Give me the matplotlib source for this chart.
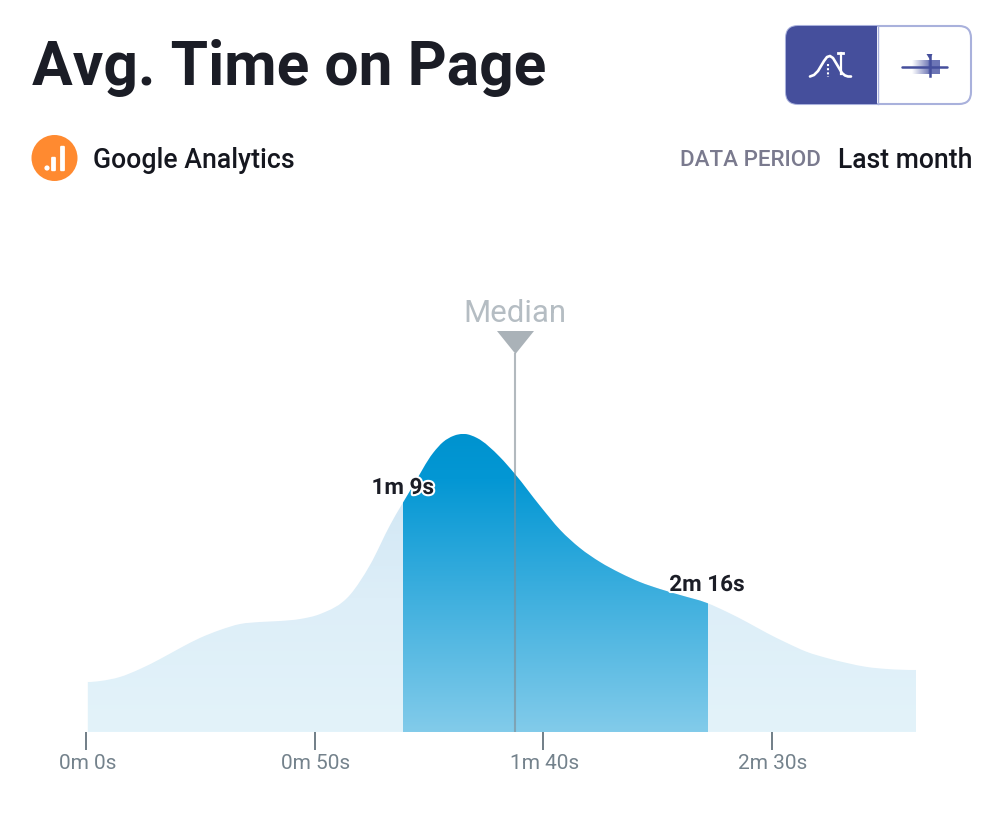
import numpy as np
import matplotlib
matplotlib.use('Agg')
import matplotlib.pyplot as plt
import matplotlib.patheffects as pe
from matplotlib.colors import LinearSegmentedColormap
from matplotlib.patches import Circle, FancyBboxPatch, PathPatch, Polygon, Rectangle
from matplotlib.path import Path
from matplotlib.transforms import ScaledTranslation

plt.rcParams['font.family'] = ['Roboto', 'DejaVu Sans']

seconds = [0.4, 3.1, 7.4, 11.8, 16.2, 20.6, 24.9, 29.3, 33.7, 38, 42.4, 46.8, 51.2, 57.7, 62.1,
           66.5, 71.5, 75.9, 78.1, 80.3, 82.9, 85.5, 90.5, 93.8, 99.3, 103.7,
           108, 112.4, 116.8, 121.1, 125.5, 129.9, 135.8, 140.2, 144.5, 148.9, 153.3, 157.7, 162, 166.4,
           170.8, 175.2, 181.5]
density = [50, 51, 55, 63, 73, 84, 94, 102, 108, 110, 111, 113, 118, 137, 167,
           207, 246, 279, 290, 296, 298, 294, 275, 258, 226, 202,
           184, 170, 159, 150, 143, 137, 129, 120, 110, 99, 89, 80, 74, 69,
           65, 63, 62]
tick_seconds = [0, 50, 100, 150]
tick_labels = ['0m 0s', '0m 50s', '1m 40s', '2m 30s']
low_seconds = 69.3
high_seconds = 135.8
median_seconds = 93.8
low_label = '1m 9s'
high_label = '2m 16s'
x_max = 181.5
y_max = 432

W, H = 1000, 830


def smooth_area(xs, ys):
    # bezier through the read points with slopes from the neighbours, closed along the baseline
    slopes = np.gradient(ys, xs)
    slopes[0] = 0
    slopes[-1] = 0
    verts = [(xs[0], 0), (xs[0], ys[0])]
    codes = [Path.MOVETO, Path.LINETO]
    for i in range(len(xs) - 1):
        dx = xs[i + 1] - xs[i]
        verts += [(xs[i] + dx / 3, ys[i] + slopes[i] * dx / 3),
                  (xs[i + 1] - dx / 3, ys[i + 1] - slopes[i + 1] * dx / 3),
                  (xs[i + 1], ys[i + 1])]
        codes += [Path.CURVE4] * 3
    verts += [(xs[-1], 0), (xs[0], 0)]
    codes += [Path.LINETO, Path.CLOSEPOLY]
    return Path(verts, codes)


fig = plt.figure(figsize=(W / 100, H / 100), dpi=100, facecolor='white')

# chart area, 86..916 px wide, baseline at 732 px
ax = fig.add_axes([86 / W, (H - 732) / H, (916 - 86) / W, y_max / H])
ax.set_xlim(0, x_max)
ax.set_ylim(0, y_max)
ax.patch.set_visible(False)
for s in ax.spines.values():
    s.set_visible(False)
ax.yaxis.set_visible(False)

area = PathPatch(smooth_area(seconds, density), transform=ax.transData, fc='none', ec='none')
ax.add_patch(area)

ramp = np.linspace(0, 1, 256).reshape(-1, 1)
light = LinearSegmentedColormap.from_list('light', [(0, '#e3f3fa'), (0.45, '#ddeef8'), (0.77, '#d3e8f5'), (1, '#d3e8f5')])
dark = LinearSegmentedColormap.from_list('dark', [(0, '#82cbea'), (0.85, '#0397d4'), (1, '#0093cf')])
im = ax.imshow(ramp, origin='lower', extent=[0, x_max, 0, 298], aspect='auto', cmap=light, zorder=1)
im.set_clip_path(area)
im = ax.imshow(ramp, origin='lower', extent=[low_seconds, high_seconds, 0, 298], aspect='auto', cmap=dark, zorder=2)
im.set_clip_path(area)
ax.set_xlim(0, x_max)
ax.set_ylim(0, y_max)

ax.plot([median_seconds, median_seconds], [0, 379], color='#7f8b93', alpha=0.6, lw=1.5, zorder=3,
        solid_capstyle='butt')

ax.set_xticks(tick_seconds)
ax.set_xticklabels(tick_labels, fontsize=15, color='#74828c')
ax.tick_params(axis='x', length=13, width=1.3, color='#66747e', pad=2.5)
for i, lab in enumerate(ax.get_xticklabels()):
    # labels sit slightly right of their ticks in the original
    shift = 2 if i == 0 else 1
    lab.set_transform(lab.get_transform() + ScaledTranslation(shift / 100, 0, fig.dpi_scale_trans))

halo = [pe.withStroke(linewidth=3, foreground='white')]
ax.text(low_seconds, 244, low_label, ha='center', va='center', fontsize=16.2, fontweight='bold',
        color='#1b1d26', path_effects=halo, zorder=5)
ax.text(high_seconds, 147, high_label, ha='center', va='center', fontsize=16.2, fontweight='bold',
        color='#1b1d26', path_effects=halo, zorder=5)

# page furniture in pixel coordinates
ui = fig.add_axes([0, 0, 1, 1], zorder=10)
ui.set_xlim(0, W)
ui.set_ylim(H, 0)
ui.axis('off')

ui.text(32, 68, 'Avg. Time on Page', fontsize=43.6, fontweight='bold', color='#1b1d26', va='center', ha='left')
ui.text(93, 160, 'Google Analytics', fontsize=19.2, fontweight='medium', color='#15171f', va='center', ha='left')
ui.text(821, 160, 'DATA PERIOD', fontsize=16.1, fontweight='medium', color='#7a7a8e', va='center', ha='right')
ui.text(972, 160, 'Last month', fontsize=19.1, fontweight='medium', color='#15171f', va='center', ha='right')
ui.text(515, 313, 'Median', fontsize=22.4, color='#b5bdc3', va='center', ha='center')

ui.add_patch(Polygon([(497, 331), (534, 331), (515.5, 354)], closed=True, fc='#aab2b8', ec='none'))

# source badge
ui.add_patch(Circle((54.5, 158), 23, fc='#ff8a30', ec='none'))
ui.add_patch(Circle((47, 168), 2.6, fc='white', ec='none'))
for bx, top in [(53.5, 158), (62.5, 147)]:
    ui.add_patch(FancyBboxPatch((bx - 1.2, top), 2.4, 170 - top, boxstyle='round,pad=1.2', fc='white', ec='none'))

# chart type toggle
box = FancyBboxPatch((786, 26), 185, 78, boxstyle='round,pad=0,rounding_size=12', fc='white', ec='#a9b1dc', lw=1.5)
ui.add_patch(box)
left = Rectangle((785, 25), 92, 80, fc='#454f9c', ec='none')
ui.add_patch(left)
left.set_clip_path(box)
ui.plot([877.5, 877.5], [26, 104], color='#a9b1dc', lw=1)

# bell icon
icon_x = np.array([810, 814, 818, 821, 824, 827, 830, 833, 836, 839, 842, 845, 848, 851])
icon_y = np.array([76.5, 75, 71, 66, 61, 57, 56, 58, 63, 68, 73, 75.5, 76.5, 76.5])
ui.plot(icon_x, icon_y, color='white', lw=1.9, solid_capstyle='round', solid_joinstyle='round')
ui.plot([840.5, 840.5], [53, 74], color='white', lw=1.6)
ui.plot([838, 843], [53.5, 53.5], color='white', lw=2)
ui.plot([828, 828], [64, 77], color='white', lw=1.5, ls=(0, (1, 1)))

# box icon
shade = np.linspace(0, 1, 64).reshape(1, -1)
fade = LinearSegmentedColormap.from_list('fade', ['#ffffff', '#7d85bd'])
ui.imshow(shade, extent=[912, 928, 74, 60], cmap=fade, aspect='auto', zorder=2)
ui.add_patch(Rectangle((928, 60), 12, 14, fc='#6c75b5', ec='none', zorder=2))
ui.plot([902, 947], [67.5, 67.5], color='#454f9c', lw=1.8, zorder=3, solid_capstyle='round')
ui.plot([929.5, 929.5], [55, 76], color='#454f9c', lw=1.8, zorder=3)
ui.add_patch(Polygon([(926.5, 54), (932.5, 54), (929.5, 59)], closed=True, fc='#454f9c', ec='none', zorder=3))
ui.set_xlim(0, W)
ui.set_ylim(H, 0)

fig.savefig('out.png', dpi=100)
